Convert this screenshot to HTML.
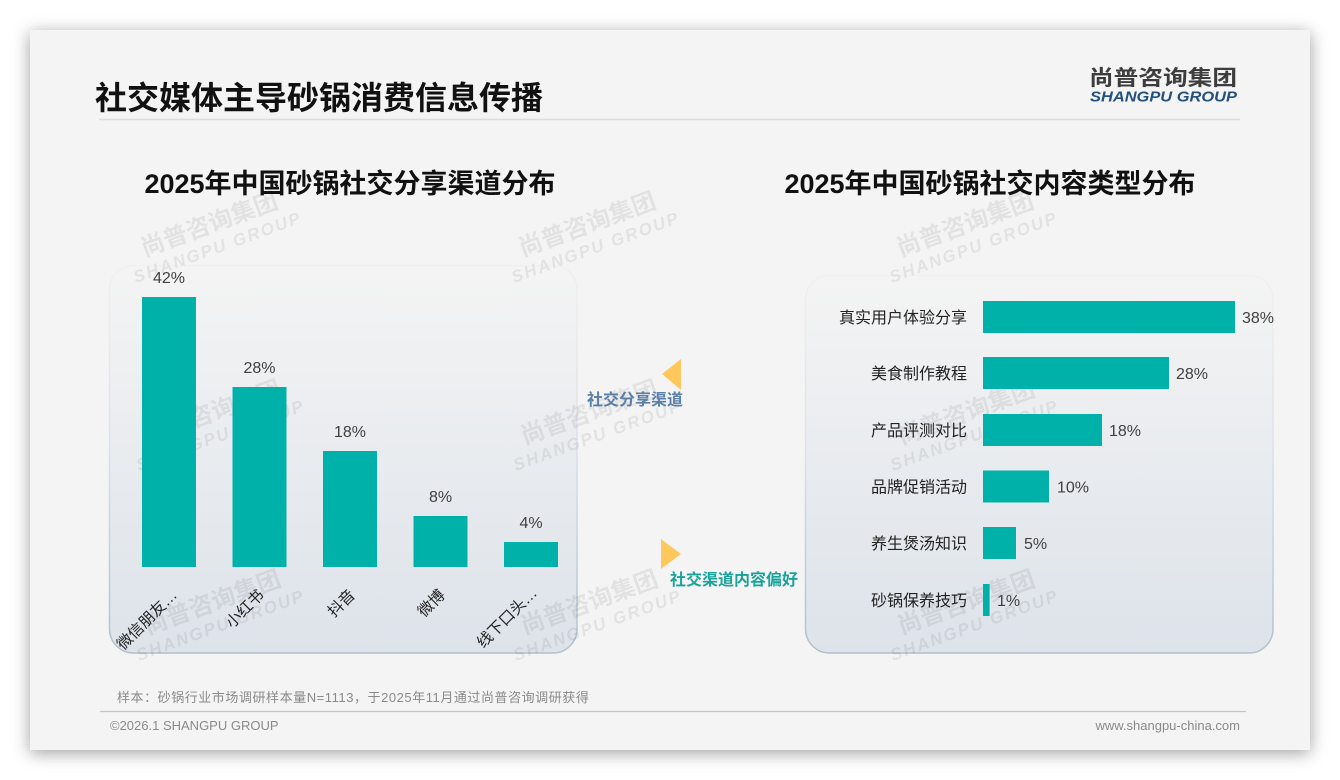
<!DOCTYPE html>
<html>
<head>
<meta charset="utf-8">
<style>
  html,body{margin:0;padding:0;background:#ffffff;}
  body{width:1340px;height:780px;position:relative;overflow:hidden;
       font-family:"Liberation Sans","Noto Sans CJK SC",sans-serif;}
  .slide{position:absolute;left:30px;top:30px;width:1280px;height:720px;background:#f4f4f4;
         box-shadow:0 3px 16px rgba(0,0,0,0.38);}
  svg{position:absolute;left:0;top:0;}
</style>
</head>
<body>
<div class="slide"></div>
<svg width="1340" height="780" viewBox="0 0 1340 780" xmlns="http://www.w3.org/2000/svg"
     font-family="Liberation Sans, Noto Sans CJK SC, sans-serif">
  <defs>
    <linearGradient id="pfill" x1="0" y1="0" x2="0" y2="1">
      <stop offset="0" stop-color="#f4f4f4"/>
      <stop offset="1" stop-color="#dde3ea"/>
    </linearGradient>
    <linearGradient id="pstroke" x1="0" y1="0" x2="0" y2="1">
      <stop offset="0" stop-color="#f0f0f0"/>
      <stop offset="0.45" stop-color="#dde2e8"/>
      <stop offset="1" stop-color="#b3bfcc"/>
    </linearGradient>
  </defs>

  <!-- header -->
  <text x="95" y="109" font-size="32" font-weight="700" fill="#111">社交媒体主导砂锅消费信息传播</text>
  <line x1="99" y1="119.5" x2="1240" y2="119.5" stroke="#dcdcdc" stroke-width="1.5"/>
  <text x="1089" y="85" font-size="21" font-weight="700" fill="#3d3d3d" textLength="148" lengthAdjust="spacingAndGlyphs">尚普咨询集团</text>
  <text x="1090" y="101.5" font-size="15" font-weight="700" font-style="italic" fill="#24507e" textLength="147" lengthAdjust="spacingAndGlyphs">SHANGPU GROUP</text>

  <!-- chart titles -->
  <text x="350" y="193" font-size="27" font-weight="700" fill="#111" text-anchor="middle">2025年中国砂锅社交分享渠道分布</text>
  <text x="990" y="193" font-size="27" font-weight="700" fill="#111" text-anchor="middle">2025年中国砂锅社交内容类型分布</text>

  <!-- panels -->
  <rect x="109.5" y="265.5" width="467.5" height="387.5" rx="24" fill="url(#pfill)" stroke="url(#pstroke)" stroke-width="1.5"/>
  <rect x="805.5" y="275.5" width="467.5" height="377.5" rx="24" fill="url(#pfill)" stroke="url(#pstroke)" stroke-width="1.5"/>

  <!-- watermarks -->
  <g fill="#000" fill-opacity="0.07" font-weight="700">
    <g transform="translate(212,232) rotate(-20)"><text x="0" y="0" font-size="24" text-anchor="middle">尚普咨询集团</text><text x="0" y="22" font-size="17" font-style="italic" text-anchor="middle" letter-spacing="2">SHANGPU GROUP</text></g>
    <g transform="translate(590,232) rotate(-20)"><text x="0" y="0" font-size="24" text-anchor="middle">尚普咨询集团</text><text x="0" y="22" font-size="17" font-style="italic" text-anchor="middle" letter-spacing="2">SHANGPU GROUP</text></g>
    <g transform="translate(968,232) rotate(-20)"><text x="0" y="0" font-size="24" text-anchor="middle">尚普咨询集团</text><text x="0" y="22" font-size="17" font-style="italic" text-anchor="middle" letter-spacing="2">SHANGPU GROUP</text></g>
    <g transform="translate(215,420) rotate(-20)"><text x="0" y="0" font-size="24" text-anchor="middle">尚普咨询集团</text><text x="0" y="22" font-size="17" font-style="italic" text-anchor="middle" letter-spacing="2">SHANGPU GROUP</text></g>
    <g transform="translate(592,420) rotate(-20)"><text x="0" y="0" font-size="24" text-anchor="middle">尚普咨询集团</text><text x="0" y="22" font-size="17" font-style="italic" text-anchor="middle" letter-spacing="2">SHANGPU GROUP</text></g>
    <g transform="translate(969,420) rotate(-20)"><text x="0" y="0" font-size="24" text-anchor="middle">尚普咨询集团</text><text x="0" y="22" font-size="17" font-style="italic" text-anchor="middle" letter-spacing="2">SHANGPU GROUP</text></g>
    <g transform="translate(215,610) rotate(-20)"><text x="0" y="0" font-size="24" text-anchor="middle">尚普咨询集团</text><text x="0" y="22" font-size="17" font-style="italic" text-anchor="middle" letter-spacing="2">SHANGPU GROUP</text></g>
    <g transform="translate(592,610) rotate(-20)"><text x="0" y="0" font-size="24" text-anchor="middle">尚普咨询集团</text><text x="0" y="22" font-size="17" font-style="italic" text-anchor="middle" letter-spacing="2">SHANGPU GROUP</text></g>
    <g transform="translate(969,610) rotate(-20)"><text x="0" y="0" font-size="24" text-anchor="middle">尚普咨询集团</text><text x="0" y="22" font-size="17" font-style="italic" text-anchor="middle" letter-spacing="2">SHANGPU GROUP</text></g>
  </g>

  <!-- left bar chart -->
  <g fill="#00b1a9">
    <rect x="142" y="297" width="54" height="270"/>
    <rect x="232.5" y="387" width="54" height="180"/>
    <rect x="323" y="451" width="54" height="116"/>
    <rect x="413.5" y="516" width="54" height="51"/>
    <rect x="504" y="542" width="54" height="25"/>
  </g>
  <g font-size="16" fill="#404040" text-anchor="middle">
    <text x="169" y="283">42%</text>
    <text x="259.5" y="373">28%</text>
    <text x="350" y="437">18%</text>
    <text x="440.5" y="502">8%</text>
    <text x="531" y="528">4%</text>
  </g>
  <g font-size="15.5" fill="#222" text-anchor="end">
    <text transform="translate(178,596) rotate(-45)">微信朋友…</text>
    <text transform="translate(265,596) rotate(-45)">小红书</text>
    <text transform="translate(356,596) rotate(-45)">抖音</text>
    <text transform="translate(446,596) rotate(-45)">微博</text>
    <text transform="translate(538,594) rotate(-45)">线下口头…</text>
  </g>

  <!-- middle annotations -->
  <polygon points="662,374 681,359 681,390" fill="#ffc85c"/>
  <text x="587" y="405" font-size="16" font-weight="700" fill="#5a7fa8">社交分享渠道</text>
  <polygon points="661,539 661,569 681,554" fill="#ffc85c"/>
  <text x="670" y="585" font-size="16" font-weight="700" fill="#1aa39a">社交渠道内容偏好</text>

  <!-- right bar chart -->
  <g fill="#00b1a9">
    <rect x="983" y="301" width="252" height="32"/>
    <rect x="983" y="357" width="186" height="32"/>
    <rect x="983" y="414" width="119" height="32"/>
    <rect x="983" y="470.5" width="66" height="32"/>
    <rect x="983" y="527" width="33" height="32"/>
    <rect x="983" y="584" width="6.6" height="32"/>
  </g>
  <g font-size="16" fill="#222" text-anchor="end">
    <text x="967" y="323">真实用户体验分享</text>
    <text x="967" y="379">美食制作教程</text>
    <text x="967" y="436">产品评测对比</text>
    <text x="967" y="492.5">品牌促销活动</text>
    <text x="967" y="549">养生煲汤知识</text>
    <text x="967" y="606">砂锅保养技巧</text>
  </g>
  <g font-size="16" fill="#404040">
    <text x="1242" y="323">38%</text>
    <text x="1176" y="379">28%</text>
    <text x="1109" y="436">18%</text>
    <text x="1057" y="492.5">10%</text>
    <text x="1024" y="549">5%</text>
    <text x="997" y="606">1%</text>
  </g>

  <!-- footer -->
  <text x="117" y="702" font-size="13" fill="#8a8a8a" letter-spacing="0.55">样本：砂锅行业市场调研样本量N=1113，于2025年11月通过尚普咨询调研获得</text>
  <line x1="100" y1="711.5" x2="1246" y2="711.5" stroke="#b9c8d8" stroke-width="1.2"/>
  <text x="110" y="730" font-size="13" fill="#8a8a8a">©2026.1 SHANGPU GROUP</text>
  <text x="1240" y="730" font-size="13" fill="#8a8a8a" text-anchor="end">www.shangpu-china.com</text>
</svg>
</body>
</html>
